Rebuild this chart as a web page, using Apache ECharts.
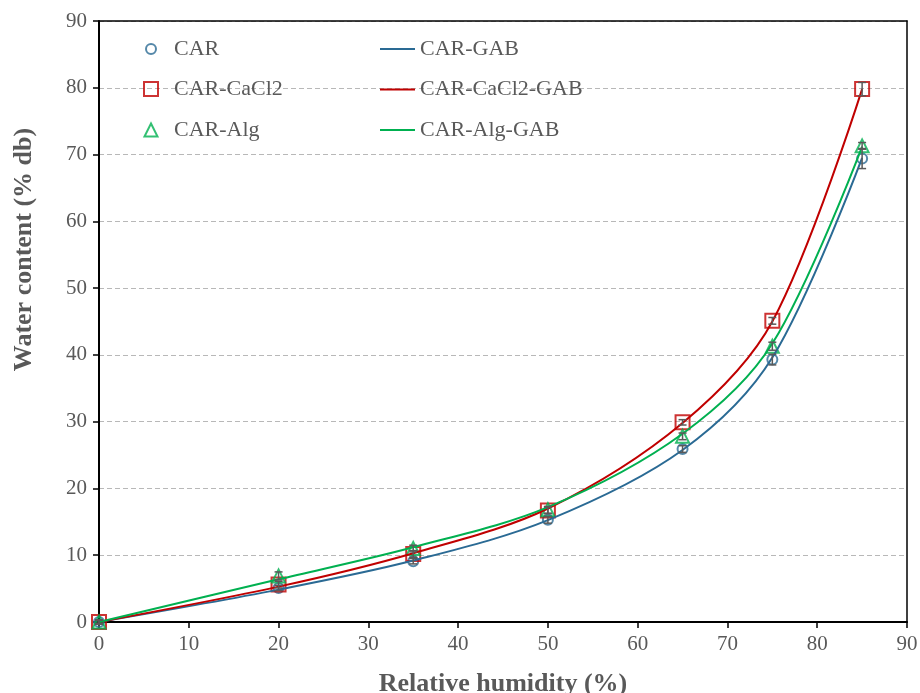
<!DOCTYPE html>
<html><head><meta charset="utf-8">
<script src="https://cdn.jsdelivr.net/npm/echarts/dist/echarts.min.js"></script>
<style>html,body{margin:0;padding:0;background:#fff}#c{width:920px;height:693px}</style>
</head><body><div id="c"></div>
<script>
// ---- data ----
const humidity = [0, 20, 35, 50, 65, 75, 85];
const carValues = [0, 5.1, 9.1, 15.3, 25.9, 39.3, 69.4];
const carErrors = [0.3, 0.4, 0.4, 0.5, 0.5, 0.8, 1.5];
const cacl2Values = [0, 5.6, 10.2, 16.7, 29.9, 45.1, 79.8];
const cacl2Errors = [0.3, 0.5, 0.5, 0.5, 0.4, 0.5, 1.0];
const algValues = [0, 6.9, 11.0, 16.8, 27.8, 41.3, 71.3];
const algErrors = [0.3, 0.6, 0.5, 0.5, 0.5, 0.6, 0.5];

// GAB model curves read at the same humidity points (smoothed line through them)
const gabHumidity = [0, 20, 35, 50, 65, 75, 85];
const carGab   = [0, 4.85, 9.2, 15.25, 25.75, 39.6, 69.5];
const cacl2Gab = [0, 5.3, 10.3, 17.0, 29.8, 45.0, 79.8];
const algGab   = [0, 6.4, 11.2, 17.2, 28.2, 41.7, 71.2];

const xTickValues = [0, 10, 20, 30, 40, 50, 60, 70, 80, 90];
const yTickValues = [0, 10, 20, 30, 40, 50, 60, 70, 80, 90];

const scatterNames = ['CAR', 'CAR-CaCl2', 'CAR-Alg'];
const lineNames = ['CAR-GAB', 'CAR-CaCl2-GAB', 'CAR-Alg-GAB'];

// ---- styling ----
const BLUE = '#2a6a94', RED = '#c00000', GREEN = '#00b050', GRAY = '#595959';
const FONT = '"Liberation Serif", "Times New Roman", serif';
const LEGEND_FONT = { fontFamily: FONT, fontSize: 22, color: GRAY };

const pairs = (xs, ys) => xs.map((x, i) => [x, ys[i]]);
const triples = (xs, ys, es) => xs.map((x, i) => [x, ys[i], es[i]]);

function errorSeries(name, data) {
  return {
    type: 'custom', name: name, z: 6, silent: true,
    encode: { x: 0, y: 1 },
    data: data,
    renderItem: function (params, api) {
      const x = api.value(0), y = api.value(1), e = api.value(2);
      const t = api.coord([x, y + e]), b = api.coord([x, y - e]);
      const w = 4;
      const st = { stroke: GRAY, lineWidth: 1.5 };
      return { type: 'group', children: [
        { type: 'line', shape: { x1: t[0], y1: t[1], x2: b[0], y2: b[1] }, style: st },
        { type: 'line', shape: { x1: t[0] - w, y1: t[1], x2: t[0] + w, y2: t[1] }, style: st },
        { type: 'line', shape: { x1: b[0] - w, y1: b[1], x2: b[0] + w, y2: b[1] }, style: st }
      ]};
    }
  };
}

function scatterSeries(name, data, symbol, size, color) {
  return {
    type: 'scatter', name: name, data: data, symbol: symbol, symbolSize: size, z: 3,
    itemStyle: { color: 'rgba(255,255,255,0)', borderColor: color, borderWidth: 2 }
  };
}

function lineSeries(name, data, color) {
  return {
    type: 'line', name: name, data: data, smooth: 0.33, symbol: 'none', z: 4,
    lineStyle: { color: color, width: 2 }, itemStyle: { color: color }
  };
}

// one legend per marker item so that each icon keeps its own size
function markerLegend(name, icon, size, rowTop, color) {
  return {
    data: [{ name: name, icon: icon,
             itemStyle: { color: 'rgba(255,255,255,0)', borderColor: color, borderWidth: 2 } }],
    orient: 'vertical',
    left: 150 - size / 2, top: rowTop, padding: 0,
    itemWidth: size, itemHeight: size, symbolKeepAspect: true,
    textStyle: Object.assign({ padding: [0, 0, 0, 18 - size / 2] }, LEGEND_FONT)
  };
}

const axisFont = { fontFamily: FONT, fontSize: 21, color: GRAY };
const nameFont = { fontFamily: FONT, fontSize: 26, fontWeight: 'bold', color: GRAY };

const option = {
  animation: false,
  backgroundColor: '#fff',
  grid: { left: 99, right: 13, top: 21, bottom: 71, outerBoundsMode: 'none', containLabel: false },
  legend: [
    markerLegend(scatterNames[0], 'circle', 10, 38, BLUE),
    markerLegend(scatterNames[1], 'rect', 14, 78, RED),
    markerLegend(scatterNames[2], 'triangle', 13, 119, GREEN),
    {
      data: [
        { name: lineNames[0], icon: 'path://M0,0H35V2H0Z', itemStyle: { color: BLUE, borderWidth: 0 } },
        { name: lineNames[1], icon: 'path://M0,0H35V2H0Z', itemStyle: { color: RED, borderWidth: 0 } },
        { name: lineNames[2], icon: 'path://M0,0H35V2H0Z', itemStyle: { color: GREEN, borderWidth: 0 } }
      ],
      orient: 'vertical', left: 380, top: 38, padding: 0,
      itemWidth: 35, itemHeight: 2, itemGap: 18.5,
      textStyle: LEGEND_FONT
    }
  ],
  xAxis: [
    {
      type: 'value', min: 0, max: 90, interval: 10,
      name: 'Relative humidity (%)', nameLocation: 'middle', nameGap: 49,
      nameTextStyle: nameFont,
      axisLine: { show: true, onZero: false, lineStyle: { color: '#000', width: 2 } },
      axisTick: { show: true, inside: false, length: 6, lineStyle: { color: '#000', width: 1.5 } },
      axisLabel: Object.assign({ margin: 12, formatter: v => xTickValues.includes(v) ? String(v) : '' }, axisFont),
      splitLine: { show: false }
    },
    {
      type: 'value', min: 0, max: 90, position: 'top',
      axisLine: { show: true, onZero: false, lineStyle: { color: '#000', width: 1.5 } },
      axisTick: { show: false }, axisLabel: { show: false }, splitLine: { show: false }
    }
  ],
  yAxis: [
    {
      type: 'value', min: 0, max: 90, interval: 10,
      name: 'Water content (% db)', nameLocation: 'middle', nameGap: 62,
      nameTextStyle: Object.assign({ padding: [0, 0, 0, 144] }, nameFont),
      axisLine: { show: true, onZero: false, lineStyle: { color: '#000', width: 2 } },
      axisTick: { show: true, inside: false, length: 6, lineStyle: { color: '#000', width: 1.5 } },
      axisLabel: Object.assign({ margin: 12, formatter: v => yTickValues.includes(v) ? String(v) : '' }, axisFont),
      splitLine: { show: true, lineStyle: { color: '#b8b8b8', type: [5, 3], width: 1 } }
    },
    {
      type: 'value', min: 0, max: 90, position: 'right',
      axisLine: { show: true, onZero: false, lineStyle: { color: '#000', width: 1.5 } },
      axisTick: { show: false }, axisLabel: { show: false }, splitLine: { show: false }
    }
  ],
  series: [
    scatterSeries('CAR', pairs(humidity, carValues), 'circle', 10, BLUE),
    scatterSeries('CAR-CaCl2', pairs(humidity, cacl2Values), 'rect', 14, RED),
    scatterSeries('CAR-Alg', pairs(humidity, algValues), 'triangle', 13, GREEN),
    lineSeries('CAR-GAB', pairs(gabHumidity, carGab), BLUE),
    lineSeries('CAR-CaCl2-GAB', pairs(gabHumidity, cacl2Gab), RED),
    lineSeries('CAR-Alg-GAB', pairs(gabHumidity, algGab), GREEN),
    errorSeries('CAR err', triples(humidity, carValues, carErrors)),
    errorSeries('CAR-CaCl2 err', triples(humidity, cacl2Values, cacl2Errors)),
    errorSeries('CAR-Alg err', triples(humidity, algValues, algErrors))
  ]
};

const chart = echarts.init(document.getElementById('c'), null, { renderer: 'canvas' });
chart.setOption(option);
</script>
</body></html>
